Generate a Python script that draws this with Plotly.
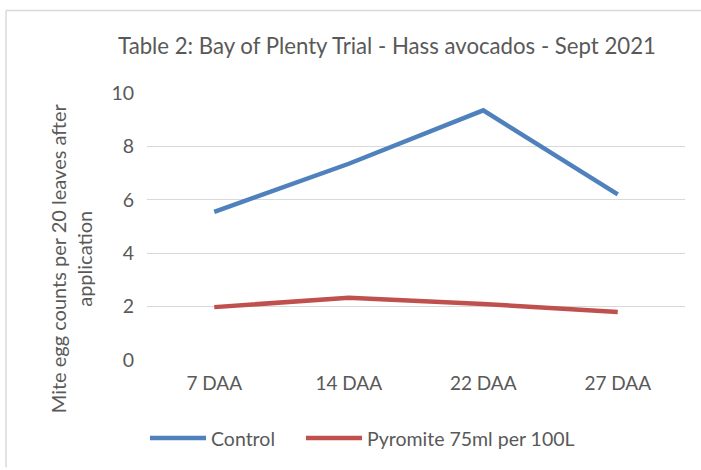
import plotly.graph_objects as go

categories = ["7 DAA", "14 DAA", "22 DAA", "27 DAA"]
control = [5.55, 7.35, 9.35, 6.2]
pyromite = [1.98, 2.33, 2.1, 1.8]
series_names = ["Control", "Pyromite 75ml per 100L"]
title_text = "Table 2: Bay of Plenty Trial - Hass avocados - Sept 2021"
y_title = "Mite egg counts per 20 leaves after<br>application"

FONT = "Lato"
GREY = "#595959"

fig = go.Figure()
fig.add_trace(go.Scatter(x=categories, y=control, name=series_names[0], mode="lines",
                         line=dict(color="#4f81bd", width=4.5), legend="legend"))
fig.add_trace(go.Scatter(x=categories, y=pyromite, name=series_names[1], mode="lines",
                         line=dict(color="#c0504d", width=4.5), legend="legend2"))

W, H = 701, 470
L, R, T, B = 147, 16, 93, 108
PW, PH = W - L - R, H - T - B

legend_common = dict(orientation="h", xanchor="left", y=-(441 - (H - B)) / PH, yanchor="middle",
                     font=dict(size=19.5, color=GREY, family=FONT), itemwidth=56,
                     bgcolor="rgba(0,0,0,0)")

fig.update_layout(
    width=W, height=H,
    margin=dict(l=L, r=R, t=T, b=B),
    paper_bgcolor="white", plot_bgcolor="white",
    font=dict(family=FONT, color=GREY, size=19),
    title=dict(text=title_text, x=387 / W, xanchor="center", y=1 - 46 / H, yanchor="middle",
               font=dict(size=22.2, color=GREY, family=FONT)),
    showlegend=True,
    legend=dict(x=(145 - L) / PW, **legend_common),
    legend2=dict(x=(301 - L) / PW, **legend_common),
    xaxis=dict(range=[-0.5, 3.5], showgrid=False, showline=False, ticks="",
               tickfont=dict(size=19, color=GREY), ticklabelstandoff=10),
    yaxis=dict(range=[0, 10], dtick=2, showgrid=True, gridcolor="#d9d9d9", gridwidth=1.3,
               zeroline=False, showline=False, ticks="", tickfont=dict(size=19.5, color=GREY),
               ticklabelstandoff=12),
    annotations=[
        dict(text=y_title, xref="paper", yref="paper", x=(70.5 - L) / PW, y=(H - B - 259) / PH,
             xanchor="center", yanchor="middle", textangle=-90, showarrow=False,
             font=dict(size=20, color=GREY, family=FONT)),
    ],
    shapes=[
        dict(type="line", xref="paper", yref="paper",
             x0=-(L - 6) / PW, x1=(W - L) / PW,
             y0=1 + (T - 10) / PH, y1=1 + (T - 10) / PH,
             line=dict(color="#d9d9d9", width=1.5)),
        dict(type="line", xref="paper", yref="paper",
             x0=-(L - 6) / PW, x1=-(L - 6) / PW,
             y0=1 + (T - 10) / PH, y1=-B / PH,
             line=dict(color="#d9d9d9", width=1.5)),
    ],
)

fig.write_html("out.html", config={"displayModeBar": False},
               post_script="document.body.style.margin='0';document.body.style.overflow='hidden';")
